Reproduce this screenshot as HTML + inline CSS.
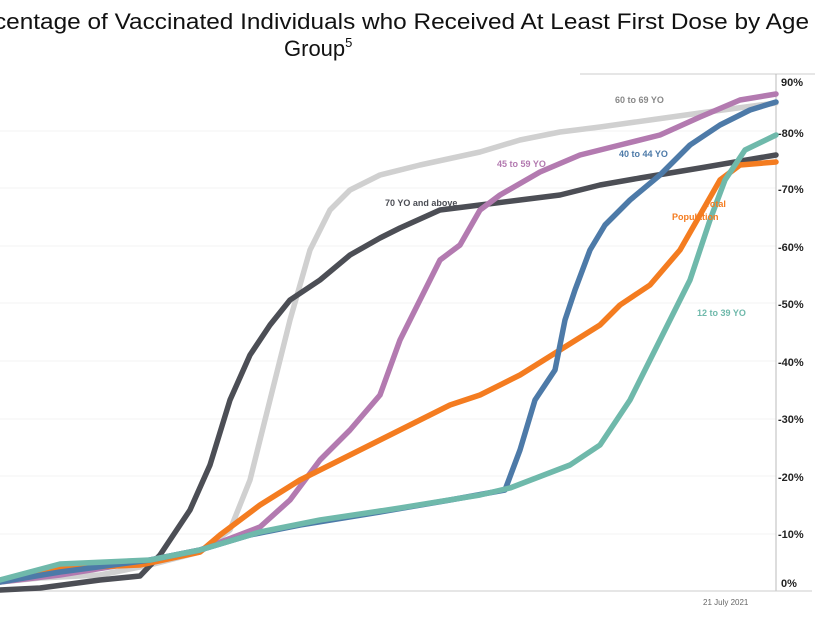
<!DOCTYPE html><html><head><style>body{margin:0;background:#fff}svg{display:block}</style></head><body>
<svg width="830" height="622" xmlns="http://www.w3.org/2000/svg" font-family="Liberation Sans, sans-serif">
<text x="-6" y="29" font-size="22" fill="#111" textLength="815" lengthAdjust="spacingAndGlyphs">centage of Vaccinated Individuals who Received At Least First Dose by Age</text>
<text x="284" y="56" font-size="22" fill="#111">Group<tspan font-size="13" dy="-9">5</tspan></text>
<line x1="580" y1="74" x2="815" y2="74" stroke="#ccc"/>
<g stroke="#f3f3f3" stroke-width="1">
<line x1="0" y1="131" x2="776" y2="131"/><line x1="0" y1="188" x2="776" y2="188"/><line x1="0" y1="246" x2="776" y2="246"/><line x1="0" y1="303" x2="776" y2="303"/><line x1="0" y1="361" x2="776" y2="361"/><line x1="0" y1="419" x2="776" y2="419"/><line x1="0" y1="476" x2="776" y2="476"/><line x1="0" y1="534" x2="776" y2="534"/></g>
<line x1="776" y1="74" x2="776" y2="591" stroke="#bbb"/>
<line x1="0" y1="591" x2="812" y2="591" stroke="#ccc"/>
<g font-size="11" font-weight="bold" fill="#222">
<text x="781" y="86">90%</text><text x="778" y="137">-80%</text><text x="778" y="193">-70%</text><text x="778" y="251">-60%</text><text x="778" y="308">-50%</text><text x="778" y="366">-40%</text><text x="778" y="423">-30%</text><text x="778" y="481">-20%</text><text x="778" y="538">-10%</text><text x="781" y="587">0%</text></g>
<text x="703" y="605" font-size="8" fill="#666">21 July 2021</text>
<g fill="none" stroke-width="5.5" stroke-linejoin="round" stroke-linecap="round">
<polyline stroke="#d0d0d0" points="0,582 40,578 100,575 150,565 200,552 230,530 250,480 270,400 290,320 310,250 330,210 350,190 380,175 420,165 480,152 520,140 560,132 600,127 650,120 700,113 776,103"/>
<polyline stroke="#4c4e55" points="0,590 40,588 100,580 140,576 160,555 190,510 210,465 230,400 250,355 270,325 290,300 320,280 350,255 380,238 400,228 440,210 480,205 520,200 560,195 600,185 640,178 700,168 776,155"/>
<polyline stroke="#b37ab0" points="0,582 60,575 140,562 200,550 260,527 290,500 320,460 350,430 380,395 400,340 420,300 440,260 460,245 480,210 500,195 540,172 580,155 620,145 660,135 700,117 740,100 776,94"/>
<polyline stroke="#f47c20" points="0,580 60,568 140,565 200,552 220,535 260,505 300,480 350,455 400,430 450,405 480,395 520,375 560,350 600,325 620,305 650,285 680,250 700,215 720,180 740,165 776,162"/>
<polyline stroke="#4d7aa8" points="0,582 60,572 150,560 200,550 250,535 300,525 380,512 450,500 505,490 520,450 535,400 555,370 565,320 575,290 590,250 605,225 630,200 660,175 690,145 720,125 750,110 776,102"/>
<polyline stroke="#6fb9ab" points="0,580 60,564 150,560 200,550 260,532 320,520 400,508 480,495 510,488 570,465 600,445 630,400 650,360 670,320 690,280 710,220 725,180 745,150 776,135"/>
</g>
<g font-size="9" font-weight="bold">
<text x="615" y="103" fill="#888">60 to 69 YO</text>
<text x="497" y="167" fill="#b37ab0">45 to 59 YO</text>
<text x="619" y="157" fill="#4d7aa8">40 to 44 YO</text>
<text x="385" y="206" fill="#4c4e55">70 YO and above</text>
<text x="705" y="207" fill="#f47c20">Total</text>
<text x="672" y="220" fill="#f47c20">Population</text>
<text x="697" y="316" fill="#6fb9ab">12 to 39 YO</text></g>
</svg></body></html>
